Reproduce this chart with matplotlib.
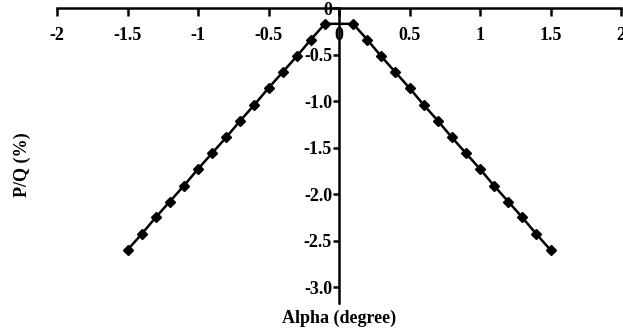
import matplotlib.pyplot as plt

# alpha (degree) and P/Q (%)
alpha = [-1.5, -1.4, -1.3, -1.2, -1.1, -1.0, -0.9, -0.8, -0.7, -0.6, -0.5, -0.4, -0.3, -0.2, -0.1,
         0.1, 0.2, 0.3, 0.4, 0.5, 0.6, 0.7, 0.8, 0.9, 1.0, 1.1, 1.2, 1.3, 1.4, 1.5]
pq = [-2.60, -2.43, -2.25, -2.08, -1.91, -1.73, -1.56, -1.39, -1.21, -1.04, -0.86, -0.69, -0.52, -0.34, -0.17,
      -0.17, -0.34, -0.52, -0.69, -0.86, -1.04, -1.21, -1.39, -1.56, -1.73, -1.91, -2.08, -2.25, -2.43, -2.60]

xticks = [-2, -1.5, -1, -0.5, 0, 0.5, 1, 1.5, 2]
xtick_labels = ['-2', '-1.5', '-1', '-0.5', '0', '0.5', '1', '1.5', '2']
yticks = [0, -0.5, -1.0, -1.5, -2.0, -2.5, -3.0]
ytick_labels = ['0', '-0.5', '-1.0', '-1.5', '-2.0', '-2.5', '-3.0']

plt.rcParams['font.family'] = ['Liberation Serif', 'DejaVu Serif']
plt.rcParams['font.weight'] = 'bold'

fig = plt.figure(figsize=(6.23, 3.35), dpi=100)
W, H = 623, 335
ax = fig.add_axes([57 / W, 1 - 303 / H, (621 - 57) / W, (303 - 8) / H])

ax.plot(alpha, pq, color='black', lw=1.8, marker='D', markersize=5.5, clip_on=False)

ax.set_xlim(-2, 2)
ax.set_ylim(-3.17, 0)

ax.spines['top'].set_visible(False)
ax.spines['right'].set_visible(False)
ax.spines['bottom'].set_position(('data', 0))
ax.spines['left'].set_position(('data', 0))
for s in ('bottom', 'left'):
    ax.spines[s].set_linewidth(1.8)

ax.set_xticks(xticks)
ax.set_xticklabels(xtick_labels, fontsize=13, fontweight='bold')
ax.set_yticks(yticks)
ax.set_yticklabels(ytick_labels, fontsize=13, fontweight='bold')
ax.tick_params(axis='x', direction='out', length=6, width=1.8, pad=8)
ax.tick_params(axis='y', direction='out', length=4, width=1.8, pad=1)

fig.text(22 / W, 1 - 165 / H, 'P/Q (%)', rotation=90, ha='center', va='center',
         fontsize=13, fontweight='bold')
fig.text(339 / W, 1 - 318 / H, 'Alpha (degree)', ha='center', va='center',
         fontsize=13, fontweight='bold')

fig.savefig('out.png', dpi=100)
